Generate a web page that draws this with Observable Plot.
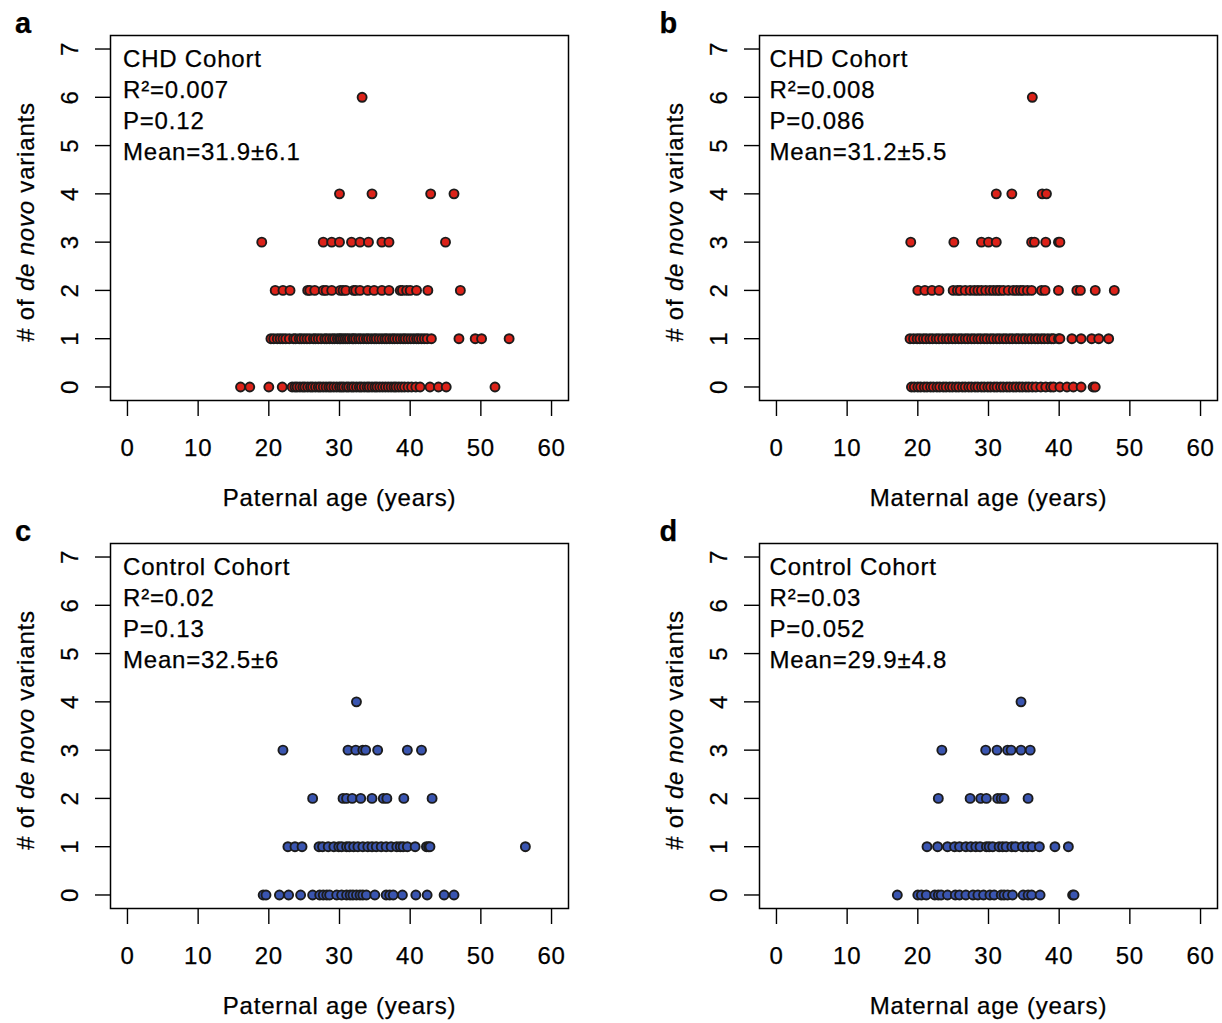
<!DOCTYPE html>
<html>
<head>
<meta charset="utf-8">
<script src="https://cdn.jsdelivr.net/npm/d3@7"></script>
<script src="https://cdn.jsdelivr.net/npm/@observablehq/plot@0.6"></script>
<style>
  html, body { margin: 0; padding: 0; background: #fff; }
  #root { position: relative; width: 1222px; height: 1023px; overflow: hidden; background: #fff; }
  .panel { position: absolute; }
  .panel svg text { stroke: #000; stroke-width: 0.25px; }
</style>
</head>
<body>
<div id="root"></div>
<script>
// ---- data: [number of de novo variants, parental ages] ----
const chdPaternal = [
  [0, [16.0, 17.3, 20.0, 21.9, 23.3, 23.7, 24.0, 24.4, 24.8, 25.1, 25.5, 25.9, 26.2, 26.6, 27.0, 27.3, 27.7, 28.1, 28.5, 28.8, 29.2, 29.6, 30.0, 30.3, 30.6, 31.0, 31.3, 31.7, 32.0, 32.4, 32.8, 33.1, 33.5, 33.9, 34.2, 34.6, 35.0, 35.3, 35.7, 36.1, 36.5, 36.9, 37.3, 37.7, 38.0, 38.4, 38.8, 39.2, 39.7, 40.2, 40.8, 41.4, 42.8, 44.0, 45.1, 52.0]],
  [1, [20.3, 20.7, 21.2, 21.6, 22.0, 22.4, 22.9, 23.5, 23.8, 24.3, 24.6, 25.0, 25.4, 25.8, 26.3, 26.6, 27.0, 27.4, 27.9, 28.2, 28.6, 29.0, 29.3, 29.7, 30.0, 30.2, 30.5, 30.8, 31.1, 31.4, 31.8, 32.0, 32.3, 32.7, 33.0, 33.4, 33.8, 34.1, 34.5, 34.9, 35.2, 35.6, 36.0, 36.4, 36.7, 37.1, 37.5, 37.8, 38.2, 38.6, 39.0, 39.3, 39.7, 40.1, 40.5, 40.9, 41.2, 41.6, 42.0, 42.4, 43.0, 46.9, 49.2, 50.1, 54.0]],
  [2, [20.9, 22.0, 23.0, 25.5, 25.8, 26.5, 27.7, 28.1, 28.9, 30.1, 30.5, 30.9, 32.0, 32.3, 32.9, 34.0, 34.9, 36.0, 37.0, 38.6, 38.9, 39.5, 40.0, 40.9, 42.5, 47.1]],
  [3, [19.0, 27.7, 28.9, 30.0, 31.7, 32.9, 34.1, 36.0, 37.0, 45.0]],
  [4, [30.0, 34.6, 42.9, 46.2]],
  [6, [33.2]]
];
const chdMaternal = [
  [0, [19.1, 19.5, 20.0, 20.4, 20.9, 21.3, 21.8, 22.2, 22.7, 23.1, 23.6, 24.0, 24.5, 24.9, 25.4, 25.8, 26.3, 26.7, 27.2, 27.6, 28.1, 28.5, 29.0, 29.4, 29.9, 30.3, 30.8, 31.2, 31.7, 32.1, 32.6, 33.0, 33.5, 33.9, 34.4, 34.8, 35.3, 35.7, 36.2, 36.7, 37.4, 38.1, 38.8, 39.2, 40.1, 41.1, 42.0, 43.1, 44.8, 45.1]],
  [1, [18.9, 19.4, 19.9, 20.3, 20.8, 21.2, 21.7, 22.1, 22.6, 23.0, 23.5, 24.0, 24.4, 24.9, 25.3, 25.8, 26.2, 26.7, 27.1, 27.6, 28.0, 28.5, 28.9, 29.4, 29.8, 30.3, 30.7, 31.2, 31.6, 32.1, 32.5, 33.0, 33.4, 33.9, 34.3, 34.8, 35.2, 35.7, 36.1, 36.6, 37.0, 37.5, 37.9, 38.4, 38.9, 39.2, 39.9, 40.1, 41.8, 43.1, 44.6, 45.6, 47.0]],
  [2, [20.0, 21.0, 22.0, 23.0, 25.0, 25.6, 26.0, 26.7, 27.4, 28.0, 28.5, 29.0, 29.6, 30.2, 30.7, 31.2, 31.6, 32.1, 32.8, 33.5, 34.0, 34.5, 34.9, 35.5, 36.1, 37.5, 38.0, 39.9, 42.5, 43.0, 45.1, 47.8]],
  [3, [19.0, 25.1, 29.0, 30.0, 31.1, 36.1, 36.5, 38.1, 39.9, 40.1]],
  [4, [31.1, 33.3, 37.6, 38.2]],
  [6, [36.2]]
];
const controlPaternal = [
  [0, [19.2, 19.6, 21.5, 22.8, 24.5, 26.2, 27.2, 27.7, 28.2, 28.6, 29.6, 30.3, 31.0, 31.5, 31.9, 32.4, 32.9, 33.3, 33.8, 35.0, 36.6, 37.1, 37.6, 38.9, 40.8, 42.4, 44.8, 46.2]],
  [1, [22.7, 23.7, 24.7, 27.1, 27.6, 28.4, 29.2, 29.9, 30.3, 31.0, 31.4, 32.0, 32.6, 33.3, 34.0, 34.6, 35.2, 35.9, 36.6, 37.3, 38.1, 38.6, 39.0, 39.6, 40.7, 42.3, 42.6, 42.8, 56.3]],
  [2, [26.2, 30.5, 31.0, 31.8, 33.0, 34.6, 36.2, 36.7, 39.1, 43.1]],
  [3, [22.0, 31.2, 32.3, 33.3, 33.7, 35.4, 39.6, 41.6]],
  [4, [32.4]]
];
const controlMaternal = [
  [0, [17.1, 20.0, 20.5, 21.2, 22.4, 22.9, 23.3, 24.2, 25.3, 25.9, 26.8, 27.8, 28.5, 29.3, 30.2, 30.8, 31.8, 32.2, 32.7, 33.4, 34.9, 35.6, 36.1, 37.3, 41.9, 42.1]],
  [1, [21.3, 22.8, 24.2, 25.2, 25.9, 26.8, 27.5, 28.2, 28.8, 29.7, 30.1, 30.6, 31.5, 32.0, 32.5, 33.3, 33.8, 34.8, 35.5, 36.2, 37.2, 39.4, 41.3]],
  [2, [22.9, 27.4, 28.9, 29.7, 31.3, 31.8, 32.2, 35.6]],
  [3, [23.4, 29.6, 31.2, 32.7, 33.2, 34.6, 35.9]],
  [4, [34.6]]
];

const xTicks = [0, 10, 20, 30, 40, 50, 60];
const yTicks = [0, 1, 2, 3, 4, 5, 6, 7];

const legendA = ["CHD Cohort", "R²=0.007", "P=0.12", "Mean=31.9±6.1"];
const legendB = ["CHD Cohort", "R²=0.008", "P=0.086", "Mean=31.2±5.5"];
const legendC = ["Control Cohort", "R²=0.02", "P=0.13", "Mean=32.5±6"];
const legendD = ["Control Cohort", "R²=0.03", "P=0.052", "Mean=29.9±4.8"];

const xLabelPaternal = "Paternal age (years)";
const xLabelMaternal = "Maternal age (years)";

const red = "#dc2219";
const blue = "#3a55b0";

const panels = [
  {letter: "a", rows: chdPaternal, legend: legendA, xlabel: xLabelPaternal, color: red, left: 0, top: 0, lx: 15, ldx: 12.5},
  {letter: "b", rows: chdMaternal, legend: legendB, xlabel: xLabelMaternal, color: red, left: 649, top: 0, lx: 10.5, ldx: 10},
  {letter: "c", rows: controlPaternal, legend: legendC, xlabel: xLabelPaternal, color: blue, left: 0, top: 508, lx: 15, ldx: 12.5},
  {letter: "d", rows: controlMaternal, legend: legendD, xlabel: xLabelMaternal, color: blue, left: 649, top: 508, lx: 10.5, ldx: 10}
];

const FONT = "'Liberation Sans', Arial, Helvetica, sans-serif";
const root = document.getElementById("root");

for (const p of panels) {
  const data = p.rows.flatMap(([n, ages]) => ages.map(age => ({age, n})));
  const chart = Plot.plot({
    width: 572,
    height: 515,
    marginLeft: 110,
    marginRight: 4,
    marginTop: 35,
    marginBottom: 115,
    x: {domain: [-2.4, 62.4]},
    y: {domain: [-0.28, 7.28]},
    style: {fontFamily: FONT, fontSize: "24px", color: "#000", background: "transparent", letterSpacing: "0.8px", overflow: "visible"},
    marks: [
      Plot.axisX({ticks: xTicks, tickSize: 16, tickPadding: 22, fontSize: 24, strokeWidth: 1.4, label: null}),
      Plot.axisY({ticks: yTicks, tickSize: 15, tickFormat: () => "", strokeWidth: 1.4, label: null}),
      Plot.axisY({ticks: yTicks, tickSize: 0, tickPadding: 40, fontSize: 24, rotate: -90, textAnchor: "middle", label: null}),
      Plot.dot(data, {x: "age", y: "n", r: 4.5, fill: p.color, stroke: "#1c1c1c", strokeWidth: 1.9}),
      Plot.frame({stroke: "#000", strokeWidth: 1.5}),
      Plot.text([p.legend.join("\n")], {text: d => d, frameAnchor: "top-left", dx: p.ldx, dy: 9, lineAnchor: "top", textAnchor: "start", lineHeight: 31 / 24, fontSize: 24}),
      Plot.text([p.xlabel], {text: d => d, frameAnchor: "bottom", dy: 98, lineAnchor: "middle", fontSize: 24})
    ]
  });
  const svg = d3.select(chart);
  const t = svg.append("text")
    .attr("transform", "translate(34,222) rotate(-90)")
    .attr("text-anchor", "middle")
    .attr("font-family", FONT)
    .attr("font-size", 24)
    .attr("fill", "#000");
  t.append("tspan").text("# of ");
  t.append("tspan").attr("font-style", "italic").text("de novo");
  t.append("tspan").text(" variants");
  svg.append("text")
    .attr("x", p.lx)
    .attr("y", 33)
    .attr("text-anchor", "start")
    .attr("font-family", FONT)
    .attr("font-size", 29)
    .attr("font-weight", "bold")
    .attr("letter-spacing", "0px")
    .attr("fill", "#000")
    .text(p.letter);
  const div = document.createElement("div");
  div.className = "panel";
  div.style.left = p.left + "px";
  div.style.top = p.top + "px";
  div.appendChild(chart);
  root.appendChild(div);
}
</script>
</body>
</html>
